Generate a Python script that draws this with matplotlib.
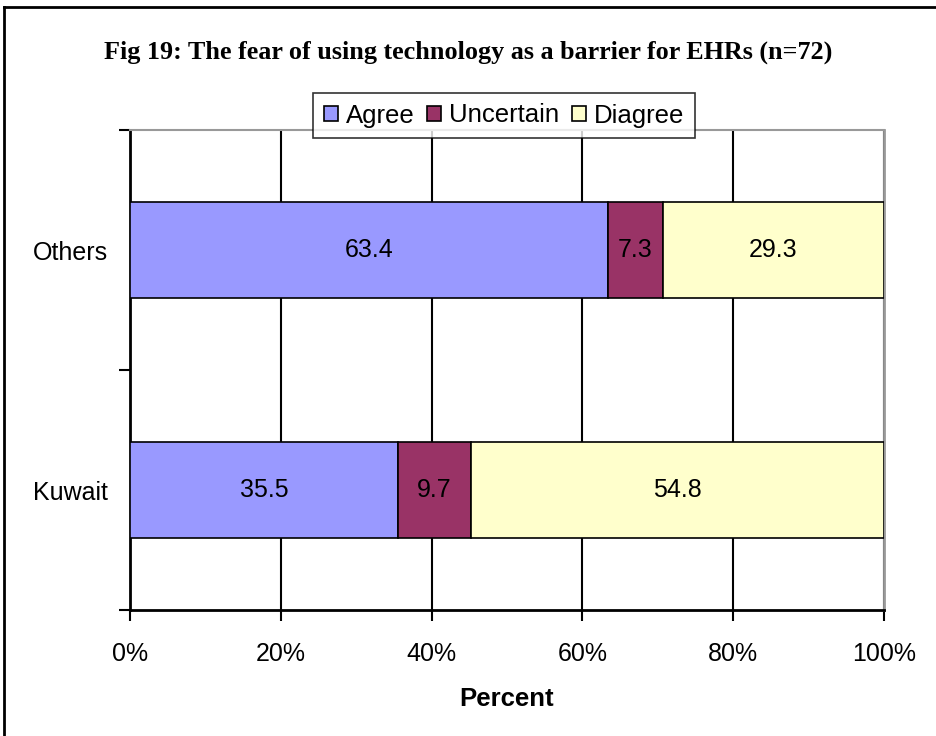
import numpy as np
import matplotlib.pyplot as plt
from matplotlib.lines import Line2D
from matplotlib.ticker import FixedLocator

kategori = ["Kuwait", "Others"]
setuju = np.array([35.5, 63.4])
ragu = np.array([9.7, 7.3])
tidak = np.array([54.8, 29.3])
label_seri = ["Agree", "Uncertain", "Diagree"]
warna = ["#9999FF", "#993366", "#FFFFCC"]
xticks = [0, 20, 40, 60, 80, 100]

plt.rcParams['font.family'] = ['Liberation Sans', 'DejaVu Sans']

fig = plt.figure(figsize=(9.37, 7.36), dpi=100)
ax = fig.add_axes([130 / 937, 1 - 610 / 736, 754 / 937, 480 / 736])

y = np.arange(len(kategori))
kiri = np.zeros(len(kategori))
for nilai, lbl, w in zip([setuju, ragu, tidak], label_seri, warna):
    bars = ax.barh(y, nilai, left=kiri, height=0.4, color=w, edgecolor='black',
                   linewidth=1.2, label=lbl, zorder=3)
    ax.bar_label(bars, labels=[f"{v:.1f}" for v in nilai], label_type='center',
                 fontsize=18, color='black')
    kiri = kiri + nilai

ax.set_xlim(0, 100)
ax.set_ylim(-0.5, 1.5)
ax.set_xticks(xticks)
ax.set_xticklabels([f"{t}%" for t in xticks], fontsize=18)
ax.set_yticks(y)
ax.set_yticklabels(kategori, fontsize=18)
ax.tick_params(axis='y', which='major', length=0, pad=16)
ax.yaxis.set_minor_locator(FixedLocator([-0.5, 0.5, 1.5]))
ax.tick_params(axis='y', which='minor', length=8, width=1.5, color='black')
ax.tick_params(axis='x', length=8, width=1.5, pad=15)
ax.grid(axis='x', color='black', linewidth=1.5, zorder=0)

ax.spines['left'].set_linewidth(2)
ax.spines['bottom'].set_linewidth(2)
ax.spines['top'].set_color('#999999')
ax.spines['right'].set_color('#999999')
ax.spines['top'].set_linewidth(1.5)
ax.spines['right'].set_linewidth(2)

ax.set_xlabel("Percent", fontsize=18.5, fontweight='bold', labelpad=15)

leg = fig.legend(loc='center', bbox_to_anchor=(504 / 937, 1 - 115.5 / 736), ncol=3,
                 fontsize=18.5, frameon=True, fancybox=False, edgecolor='black',
                 handlelength=0.55, handleheight=0.55, handletextpad=0.3,
                 columnspacing=0.5, borderpad=0.4)
leg.get_frame().set_linewidth(1.2)
leg.set_zorder(10)

fig.text(468 / 937, 1 - 52 / 736,
         "Fig 19: The fear of using technology as a barrier for EHRs (n=72)",
         ha='center', va='center', fontsize=18.8, fontweight='bold',
         family=['Liberation Serif', 'DejaVu Serif'])

fig.add_artist(Line2D([4 / 937, 4 / 937], [0, 1 - 7 / 736], color='black',
                      linewidth=2, transform=fig.transFigure))
fig.add_artist(Line2D([4 / 937, 1], [1 - 7 / 736, 1 - 7 / 736], color='black',
                      linewidth=2, transform=fig.transFigure))

fig.savefig("out.png", dpi=100)
